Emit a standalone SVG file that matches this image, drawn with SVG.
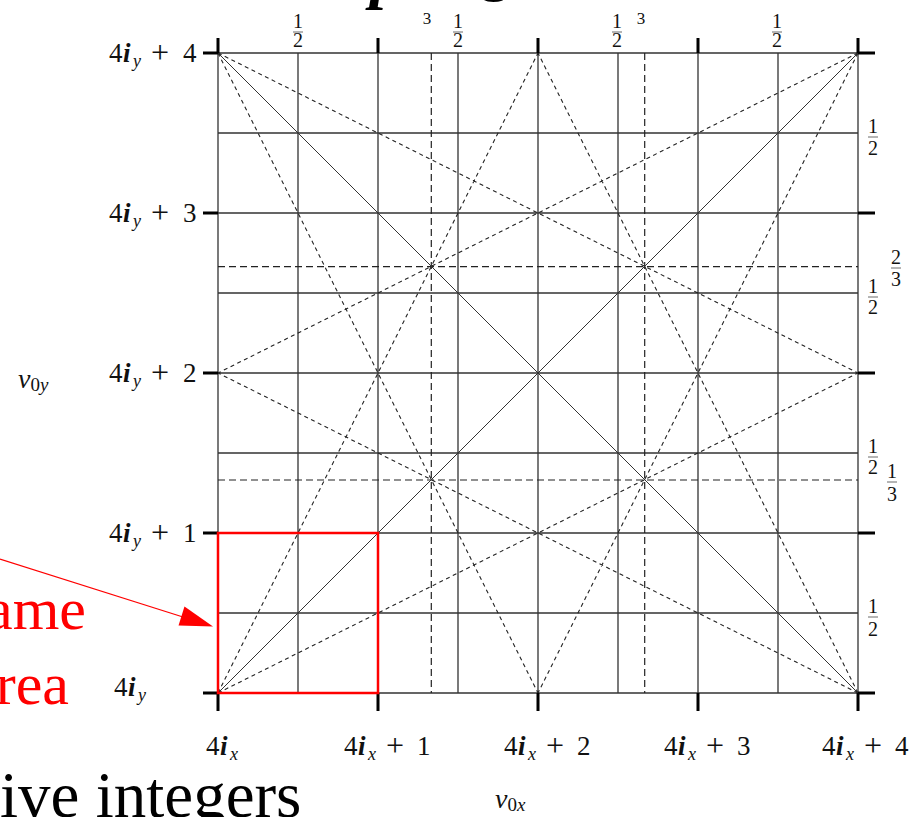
<svg xmlns="http://www.w3.org/2000/svg" width="920" height="817" viewBox="0 0 920 817">
<style>
.grid{stroke:#333;stroke-width:1.3;fill:none}
.diag{stroke:#333;stroke-width:1;fill:none}
.dd{stroke:#222;stroke-width:1.1;fill:none;stroke-dasharray:4 3.5}
.third{stroke:#222;stroke-width:1.2;fill:none;stroke-dasharray:7 4}
.tick{stroke:#000;stroke-width:3;fill:none}
.lab{font-family:"Liberation Serif","Times New Roman",serif;font-size:27px;fill:#111}
.bi{font-weight:bold;font-style:italic}
.sub{font-style:italic;font-size:18px}
.plus{font-size:32px}
.fr{font-family:"Liberation Serif","Times New Roman",serif;font-size:20px;fill:#111;text-anchor:middle}
.fr3{font-family:"Liberation Serif","Times New Roman",serif;font-size:17px;fill:#111;text-anchor:middle}
.bar{stroke:#444;stroke-width:0.8}
.nu{font-family:"Liberation Serif","Times New Roman",serif;font-style:italic;font-size:28px;fill:#111}
.nus{font-size:19px}
.red{font-family:"Liberation Serif","Times New Roman",serif;font-size:60px;fill:#ff0000;text-anchor:end}
.big{font-family:"Liberation Serif","Times New Roman",serif;font-size:65px;fill:#000}
</style>
<rect width="920" height="817" fill="#fff"/>
<g id="title-fragment">
<text class="big" x="370" y="-4" font-style="italic" font-weight="bold">p</text>
<text class="big" x="478" y="-12">g</text>
</g>
<g id="grid">
<path class="grid" d="M218 53V693M298 53V693M378 53V693M458 53V693M538 53V693M618 53V693M698 53V693M778 53V693M858 53V693M218 53H858M218 133H858M218 213H858M218 293H858M218 373H858M218 453H858M218 533H858M218 613H858M218 693H858"/>
<path class="third" d="M431.3 53V693M644.7 53V693M218 266.7H858M218 480H858"/>
</g>
<g id="connectors">
<path class="diag" d="M218 53L858 693M218 693L858 53"/>
<path class="dd" d="M218 53L538 693M218 53L858 373M858 53L538 693M858 53L218 373M218 693L538 53M218 693L858 373M858 693L538 53M858 693L218 373"/>
</g>
<g id="ticks">
<path class="tick" d="M218 38V53M378 38V53M538 38V53M698 38V53M858 38V53M218 693V711M378 693V711M538 693V711M698 693V711M858 693V711M203 53H218M203 213H218M203 373H218M203 533H218M203 693H218M858 53H875M858 213H875M858 373H875M858 533H875M858 693H875"/>
</g>
<g id="y-labels">
<text class="lab"><tspan x="109" y="62">4</tspan><tspan class="bi" x="123" y="62">i</tspan><tspan class="sub" x="133" y="67">y</tspan><tspan class="plus" x="151" y="63">+</tspan><tspan x="183" y="62">4</tspan></text>
<text class="lab"><tspan x="109" y="222">4</tspan><tspan class="bi" x="123" y="222">i</tspan><tspan class="sub" x="133" y="227">y</tspan><tspan class="plus" x="151" y="223">+</tspan><tspan x="183" y="222">3</tspan></text>
<text class="lab"><tspan x="109" y="382">4</tspan><tspan class="bi" x="123" y="382">i</tspan><tspan class="sub" x="133" y="387">y</tspan><tspan class="plus" x="151" y="383">+</tspan><tspan x="183" y="382">2</tspan></text>
<text class="lab"><tspan x="109" y="542">4</tspan><tspan class="bi" x="123" y="542">i</tspan><tspan class="sub" x="133" y="547">y</tspan><tspan class="plus" x="151" y="543">+</tspan><tspan x="183" y="542">1</tspan></text>
<text class="lab"><tspan x="114" y="696">4</tspan><tspan class="bi" x="128" y="696">i</tspan><tspan class="sub" x="138" y="701">y</tspan></text>
</g>
<g id="x-labels">
<text class="lab"><tspan x="206" y="755">4</tspan><tspan class="bi" x="220" y="755">i</tspan><tspan class="sub" x="230" y="760">x</tspan></text>
<text class="lab"><tspan x="344" y="755">4</tspan><tspan class="bi" x="358" y="755">i</tspan><tspan class="sub" x="368" y="760">x</tspan><tspan class="plus" x="386" y="756">+</tspan><tspan x="417" y="755">1</tspan></text>
<text class="lab"><tspan x="504" y="755">4</tspan><tspan class="bi" x="518" y="755">i</tspan><tspan class="sub" x="528" y="760">x</tspan><tspan class="plus" x="546" y="756">+</tspan><tspan x="577" y="755">2</tspan></text>
<text class="lab"><tspan x="664" y="755">4</tspan><tspan class="bi" x="678" y="755">i</tspan><tspan class="sub" x="688" y="760">x</tspan><tspan class="plus" x="706" y="756">+</tspan><tspan x="737" y="755">3</tspan></text>
<text class="lab"><tspan x="822" y="755">4</tspan><tspan class="bi" x="836" y="755">i</tspan><tspan class="sub" x="846" y="760">x</tspan><tspan class="plus" x="864" y="756">+</tspan><tspan x="895" y="755">4</tspan></text>
</g>
<g id="axis-names">
<text class="nu" x="18" y="388">ν<tspan class="nus" dy="3" font-style="normal">0</tspan><tspan class="nus">y</tspan></text>
<text class="nu" x="495" y="808">ν<tspan class="nus" dy="3" font-style="normal">0</tspan><tspan class="nus">x</tspan></text>
</g>
<g id="top-fractions">
<text class="fr" x="298" y="28">1</text><line class="bar" x1="293" y1="32" x2="303" y2="32"/><text class="fr" x="298" y="47">2</text>
<text class="fr" x="458" y="28">1</text><line class="bar" x1="453" y1="32" x2="463" y2="32"/><text class="fr" x="458" y="47">2</text>
<text class="fr" x="617" y="28">1</text><line class="bar" x1="612" y1="32" x2="622" y2="32"/><text class="fr" x="617" y="47">2</text>
<text class="fr" x="777" y="28">1</text><line class="bar" x1="772" y1="32" x2="782" y2="32"/><text class="fr" x="777" y="47">2</text>
<text class="fr3" x="427" y="24">3</text>
<text class="fr3" x="641" y="24">3</text>
</g>
<g id="right-fractions">
<text class="fr" x="873" y="133">1</text><line class="bar" x1="868" y1="137" x2="878" y2="137"/><text class="fr" x="873" y="155">2</text>
<text class="fr" x="873" y="293">1</text><line class="bar" x1="868" y1="297" x2="878" y2="297"/><text class="fr" x="873" y="314">2</text>
<text class="fr" x="896" y="264">2</text><line class="bar" x1="891" y1="268" x2="901" y2="268"/><text class="fr" x="896" y="286">3</text>
<text class="fr" x="873" y="453">1</text><line class="bar" x1="868" y1="457" x2="878" y2="457"/><text class="fr" x="873" y="474">2</text>
<text class="fr" x="892" y="478">1</text><line class="bar" x1="887" y1="482" x2="897" y2="482"/><text class="fr" x="892" y="501">3</text>
<text class="fr" x="873" y="613">1</text><line class="bar" x1="868" y1="617" x2="878" y2="617"/><text class="fr" x="873" y="636">2</text>
</g>
<g id="red-box">
<rect x="218" y="533" width="160" height="160" fill="none" stroke="#ff0000" stroke-width="2.5"/>
</g>
<g id="red-arrow">
<line x1="0" y1="559" x2="183" y2="617" stroke="#ff0000" stroke-width="1.2"/>
<polygon points="213,626.5 184.5,606.4 178.5,625.6" fill="#ff0000"/>
</g>
<g id="red-text">
<text class="red" x="86" y="629">ame</text>
<text class="red" x="69" y="704">rea</text>
</g>
<g id="bottom-text">
<text class="big" x="0" y="817">ive integers</text>
</g>
</svg>
